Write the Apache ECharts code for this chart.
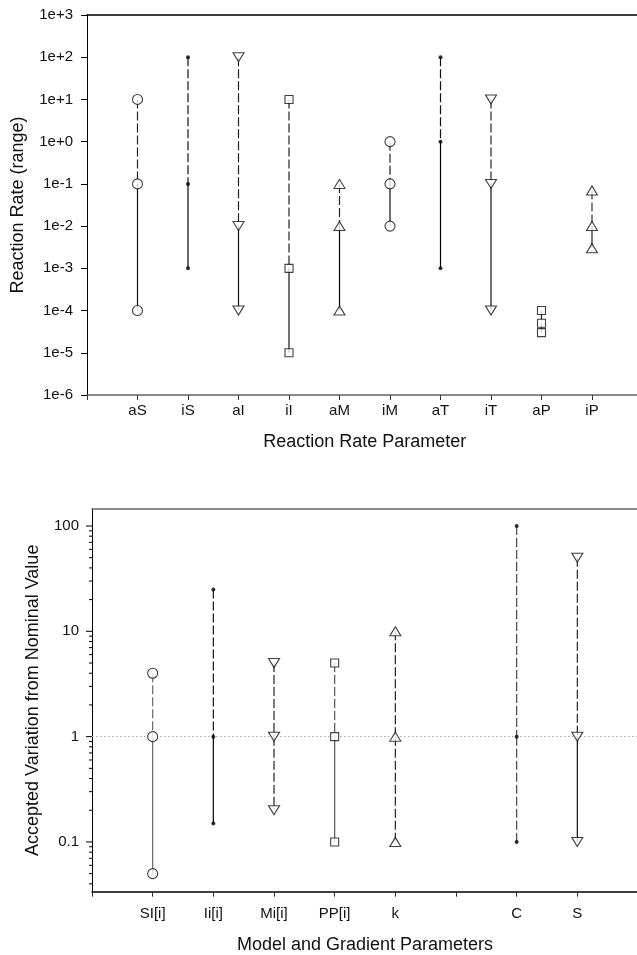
<!DOCTYPE html>
<html>
<head>
<meta charset="utf-8">
<script src="https://cdn.jsdelivr.net/npm/echarts@6/dist/echarts.min.js"></script>
<style>
  html, body { margin: 0; padding: 0; background: #fff; }
  #chart { width: 637px; height: 955px; }
</style>
</head>
<body>
<div id="chart"></div>
<script>
// Reaction rate ranges: upper bound, nominal value, lower bound
const rateParams = ['aS', 'iS', 'aI', 'iI', 'aM', 'iM', 'aT', 'iT', 'aP', 'iP'];
const rateHigh = [10, 100, 100, 10, 0.1, 1, 100, 10, 1e-4, 0.07];
const rateMid = [0.1, 0.1, 0.01, 1e-3, 0.01, 0.1, 1, 0.1, 5e-5, 0.01];
const rateLow = [1e-4, 1e-3, 1e-4, 1e-5, 1e-4, 0.01, 1e-3, 1e-4, 3e-5, 0.003];
const rateTickLabels = ['1e-6', '1e-5', '1e-4', '1e-3', '1e-2', '1e-1', '1e+0', '1e+1', '1e+2', '1e+3'];

// Accepted variation from the nominal value (the empty slot is a spacer)
const modelParams = ['SI[i]', 'Ii[i]', 'Mi[i]', 'PP[i]', 'k', '', 'C', 'S'];
const varHigh = [4, 25, 5, 5, 10, null, 100, 50];
const varMid = [1, 1, 1, 1, 1, null, 1, 1];
const varLow = [0.05, 0.15, 0.2, 0.1, 0.1, null, 0.1, 0.1];
const varTickLabels = ['0.1', '1', '10', '100'];

// Marker and line styling per parameter
const rateMarkers = ['circle', 'dot', 'down', 'square', 'up', 'circle', 'dot', 'down', 'square', 'up'];
const rateLowerDashed = [false, false, false, false, false, false, false, false, false, false];
const rateUpperColor = ['#222', '#111', '#222', '#222', '#222', '#222', '#111', '#222', '#222', '#333'];
const rateLowerColor = ['#111', '#000', '#111', '#111', '#000', '#111', '#000', '#111', '#111', '#222'];

const modelMarkers = ['circle', 'dot', 'down', 'square', 'up', null, 'dot', 'down'];
const modelLowerDashed = [false, false, true, false, true, null, true, false];
const modelUpperColor = ['#666', '#111', '#222', '#555', '#222', null, '#444', '#222'];
const modelLowerColor = ['#666', '#000', '#222', '#555', '#222', null, '#444', '#111'];

const DASH = [9, 3];
const INK = '#111';
const FONT = 'Liberation Sans, Arial, sans-serif';

function markerStyle(kind) {
  const hollow = { color: '#fff', borderColor: '#111', borderWidth: 1.1 };
  switch (kind) {
    case 'circle': return { symbol: 'circle', symbolSize: 10, itemStyle: hollow };
    case 'dot': return { symbol: 'circle', symbolSize: 4, itemStyle: { color: '#000', borderWidth: 0 } };
    case 'down': return { symbol: 'triangle', symbolRotate: 180, symbolSize: [11, 9], itemStyle: hollow };
    case 'up': return { symbol: 'triangle', symbolSize: [11, 9], itemStyle: hollow };
    default: return { symbol: 'rect', symbolSize: 8, itemStyle: hollow };
  }
}

// Range bars: dashed upper part, solid or dashed lower part, markers on top
function rangeSeries(xAxisIndex, yAxisIndex, high, mid, low, markers, lowerDashed, upperColor, lowerColor) {
  const out = [];
  high.forEach((h, i) => {
    if (h == null) return;
    const x = i + 1;
    out.push({
      type: 'line', xAxisIndex, yAxisIndex, symbol: 'none', silent: true, z: 3,
      data: [[x, h], [x, mid[i]]],
      lineStyle: { color: upperColor[i], width: 1.2, type: DASH }
    });
    out.push({
      type: 'line', xAxisIndex, yAxisIndex, symbol: 'none', silent: true, z: 3,
      data: [[x, mid[i]], [x, low[i]]],
      lineStyle: { color: lowerColor[i], width: 1.2, type: lowerDashed[i] ? DASH : 'solid' }
    });
    out.push(Object.assign({
      type: 'scatter', xAxisIndex, yAxisIndex, silent: true, z: 5,
      data: [[x, h], [x, mid[i]], [x, low[i]]]
    }, markerStyle(markers[i])));
  });
  return out;
}

function isDecade(v) {
  const e = Math.log10(v);
  return Math.abs(e - Math.round(e)) < 1e-6;
}

// Major and minor log ticks for the lower chart's value axis
const varMin = 0.0337, varMax = 145;
const varTicks = [];
[0.01, 0.1, 1, 10, 100].forEach(d => {
  for (let m = 1; m <= 9; m++) {
    const v = m * d;
    if (v >= varMin && v <= varMax) varTicks.push([0, v, m === 1 ? 6 : 3]);
  }
});

const axisText = { color: INK, fontSize: 15, fontFamily: FONT };
const nameText = { color: INK, fontSize: 18, fontFamily: FONT };

const option = {
  animation: false,
  backgroundColor: '#fff',
  grid: [
    { left: 87, top: 15, width: 555.5, height: 380, outerBoundsMode: 'none', containLabel: false },
    { left: 92, top: 509, width: 546, height: 382.7, outerBoundsMode: 'none', containLabel: false }
  ],
  xAxis: [
    {
      gridIndex: 0, type: 'value', min: 0, max: rateParams.length + 1, interval: 1,
      position: 'bottom',
      axisLine: { lineStyle: { color: '#666', width: 1.5 } },
      axisTick: { show: true, length: 5, lineStyle: { color: '#333' } },
      splitLine: { show: false },
      axisLabel: Object.assign({ margin: 8, showMinLabel: true, showMaxLabel: true,
        formatter: v => (v >= 1 && v <= rateParams.length) ? rateParams[v - 1] : '' }, axisText),
      name: 'Reaction Rate Parameter', nameLocation: 'middle', nameGap: 38, nameTextStyle: nameText
    },
    {
      gridIndex: 0, type: 'value', min: 0, max: rateParams.length + 1, position: 'top',
      axisLine: { lineStyle: { color: '#000', width: 1.5 } },
      axisTick: { show: false }, axisLabel: { show: false }, splitLine: { show: false }
    },
    {
      gridIndex: 1, type: 'value', min: 0, max: modelParams.length + 1, interval: 1,
      position: 'bottom',
      axisLine: { lineStyle: { color: '#000', width: 1.5 } },
      axisTick: { show: true, length: 5, lineStyle: { color: '#333' } },
      splitLine: { show: false },
      axisLabel: Object.assign({ margin: 15, showMinLabel: true, showMaxLabel: true,
        formatter: v => (v >= 1 && v <= modelParams.length) ? modelParams[v - 1] : '' }, axisText),
      name: 'Model and Gradient Parameters', nameLocation: 'middle', nameGap: 44, nameTextStyle: nameText
    },
    {
      gridIndex: 1, type: 'value', min: 0, max: modelParams.length + 1, position: 'top',
      axisLine: { lineStyle: { color: '#666', width: 1.5 } },
      axisTick: { show: false }, axisLabel: { show: false }, splitLine: { show: false }
    }
  ],
  yAxis: [
    {
      gridIndex: 0, type: 'log', logBase: 10, min: 1e-6, max: 1e3, interval: 1,
      axisLine: { show: true, lineStyle: { color: '#000', width: 1 } },
      axisTick: { show: true, length: 6, lineStyle: { color: '#000' } },
      splitLine: { show: false },
      axisLabel: Object.assign({ margin: 14, showMinLabel: true, showMaxLabel: true,
        formatter: v => rateTickLabels[Math.round(Math.log10(v)) + 6] }, axisText),
      name: 'Reaction Rate (range)', nameLocation: 'middle', nameGap: 60, nameTextStyle: nameText
    },
    {
      gridIndex: 1, type: 'log', logBase: 10, min: varMin, max: varMax,
      axisLine: { show: true, lineStyle: { color: '#000', width: 1 } },
      axisTick: { show: false },
      splitLine: { show: false },
      axisLabel: Object.assign({ margin: 13,
        formatter: v => isDecade(v) ? varTickLabels[Math.round(Math.log10(v)) + 1] : '' }, axisText),
      name: 'Accepted Variation from Nominal Value', nameLocation: 'middle', nameGap: 50, nameTextStyle: nameText
    }
  ],
  series: [
    // reference line at the nominal value
    {
      type: 'line', xAxisIndex: 2, yAxisIndex: 1, data: [], silent: true, z: 1,
      markLine: {
        silent: true, symbol: 'none', label: { show: false },
        lineStyle: { color: '#aaa', width: 1, type: [1.5, 2.5] },
        data: [{ yAxis: 1 }]
      }
    },
    // log ticks on the lower chart's value axis
    {
      type: 'custom', xAxisIndex: 2, yAxisIndex: 1, silent: true, z: 6,
      data: varTicks,
      renderItem: (params, api) => {
        const p = api.coord([api.value(0), api.value(1)]);
        const len = api.value(2);
        return { type: 'line', shape: { x1: p[0] - len, y1: p[1], x2: p[0], y2: p[1] },
                 style: { stroke: '#000', lineWidth: 1 } };
      }
    }
  ]
    .concat(rangeSeries(0, 0, rateHigh, rateMid, rateLow, rateMarkers, rateLowerDashed, rateUpperColor, rateLowerColor))
    .concat(rangeSeries(2, 1, varHigh, varMid, varLow, modelMarkers, modelLowerDashed, modelUpperColor, modelLowerColor))
};

const chart = echarts.init(document.getElementById('chart'), null, { renderer: 'canvas' });
chart.setOption(option);
</script>
</body>
</html>
